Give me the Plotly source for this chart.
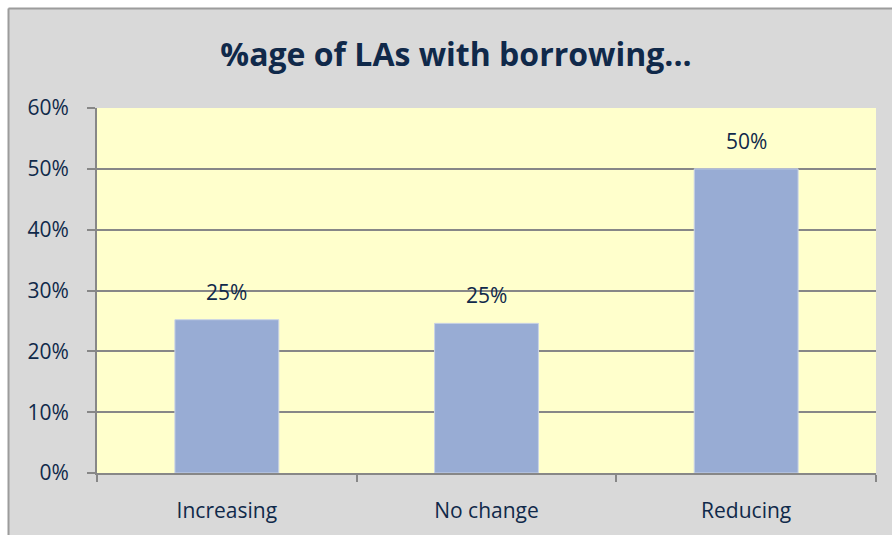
import plotly.graph_objects as go

categories = ["Increasing", "No change", "Reducing"]
values = [25.2, 24.6, 50.0]
y_ticks = [0, 10, 20, 30, 40, 50, 60]
y_tick_labels = [f"{t}%" for t in y_ticks]
title_text = "%age of LAs with borrowing..."

W, H = 892, 535
ML, MR, MT, MB = 97, 16, 108, 62
PW, PH = W - ML - MR, H - MT - MB

def px(x):
    return (x - ML) / PW

def py(y):
    return (H - MB - y) / PH

TXT = "#10294a"
GRID = "#878787"
FONT = "Open Sans"

fig = go.Figure()
fig.add_trace(go.Bar(
    x=categories, y=values,
    marker=dict(color="#98acd4", line=dict(color="#c9d3e6", width=1)),
    width=0.4,
    hoverinfo="skip",
))

for c, v in zip(categories, values):
    fig.add_annotation(x=c, y=v, text=f"{v:.0f}%", showarrow=False,
                       xref="x", yref="y", yanchor="bottom", yshift=12,
                       font=dict(family=FONT, size=21, color=TXT))

shapes = [
    dict(type="rect", xref="paper", yref="paper", x0=px(-5), x1=px(8), y0=py(H + 5), y1=py(-5),
         fillcolor="white", line=dict(width=0), layer="above"),
    dict(type="rect", xref="paper", yref="paper", x0=px(-5), x1=px(W + 5), y0=py(8), y1=py(-5),
         fillcolor="white", line=dict(width=0), layer="above"),
    dict(type="line", xref="paper", yref="paper", x0=px(8.5), x1=px(8.5), y0=py(8.5), y1=py(H + 5),
         line=dict(color="#9c9c9c", width=2), layer="above"),
    dict(type="line", xref="paper", yref="paper", x0=px(8.5), x1=px(W + 5), y0=py(8.5), y1=py(8.5),
         line=dict(color="#9c9c9c", width=2), layer="above"),
]

fig.update_layout(
    width=W, height=H,
    margin=dict(l=ML, r=MR, t=MT, b=MB, pad=0),
    paper_bgcolor="#d9d9d9",
    plot_bgcolor="#ffffcc",
    showlegend=False,
    shapes=shapes,
    title=dict(text=f"<b>{title_text}</b>", x=456 / W, xref="container", xanchor="center",
               y=1 - 55 / H, yref="container", yanchor="middle",
               font=dict(family=FONT, size=32, color=TXT)),
    xaxis=dict(
        type="category", range=[-0.5, 2.5],
        showline=True, linecolor=GRID, linewidth=2,
        ticks="outside", tickson="boundaries", ticklen=7, tickcolor=GRID, tickwidth=2,
        showgrid=False, zeroline=False,
        tickfont=dict(family=FONT, size=21, color=TXT),
        ticklabelstandoff=18,
    ),
    yaxis=dict(
        range=[0, 60], tickvals=y_ticks, ticktext=y_tick_labels,
        showline=True, linecolor=GRID, linewidth=2,
        ticks="outside", ticklen=8, tickcolor=GRID, tickwidth=2,
        showgrid=True, gridcolor=GRID, gridwidth=2, zeroline=False,
        tickfont=dict(family=FONT, size=21, color=TXT),
        ticklabelstandoff=14,
    ),
    bargap=0.6,
)

fig.write_html("out.html")
